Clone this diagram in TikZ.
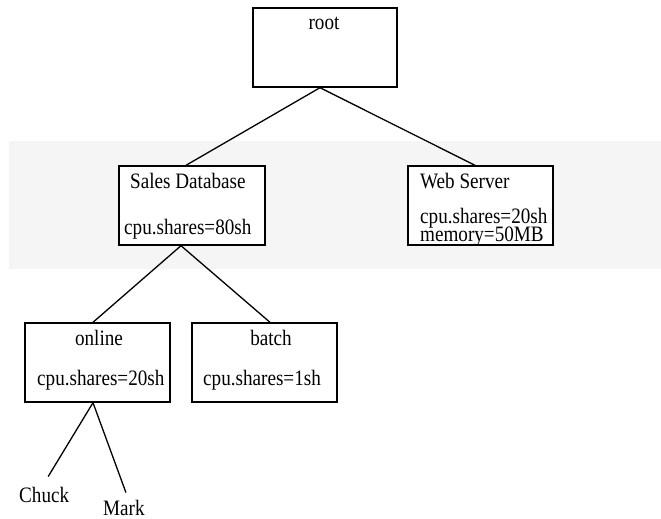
\documentclass[tikz,border=0pt]{standalone}
\usepackage{fontspec}
\setmainfont[FakeStretch=0.87]{Liberation Serif}
\begin{document}
\begin{tikzpicture}[x=1pt,y=-1pt,
  box/.style={draw=black, fill=white, line width=1.4pt, rectangle, inner sep=0pt,
              minimum width=145pt, minimum height=79pt},
  label/.style={inner sep=0pt, font=\fontsize{22}{22}\selectfont},
  edge/.style={draw=black, line width=1.3pt}]
\useasboundingbox (0,0) rectangle (661,519);
% shaded band behind the second level
\fill[black!4] (9,141) rectangle (661,269);

% group boxes
\node[box, minimum width=144pt] (root) at (325,47.5) {};
\node[box, minimum width=146pt] (sales) at (192,205.5) {};
\node[box] (web) at (480.5,205.5) {};
\node[box] (online) at (97.5,362.5) {};
\node[box] (batch) at (264.5,362.5) {};

% box texts
\node[label, anchor=base] (rootT) at (324,30) {root};
\node[label, anchor=base west] (salesT) at (130,188) {Sales Database};
\node[label, anchor=base west] (salesC) at (124,234) {cpu.shares=80sh};
\node[label, anchor=base west] (webT) at (420,188) {Web Server};
\node[label, anchor=base west] (webC) at (420,223) {cpu.shares=20sh};
\node[label, anchor=base west] (webM) at (420,241) {memory=50MB};
\node[label, anchor=base] (onlineT) at (99,345) {online};
\node[label, anchor=base west] (onlineC) at (37,385) {cpu.shares=20sh};
\node[label, anchor=base] (batchT) at (271,345) {batch};
\node[label, anchor=base west] (batchC) at (203,385) {cpu.shares=1sh};

% users
\node[label, anchor=base west] (chuck) at (19,502) {Chuck};
\node[label, anchor=base west] (mark) at (103,515) {Mark};

% hierarchy
\draw[edge] ([xshift=-5pt]root.south) -- ([xshift=-6pt]sales.north);
\draw[edge] ([xshift=-5pt]root.south) -- ([xshift=-5.5pt]web.north);
\draw[edge] ([xshift=-11pt]sales.south) -- ([xshift=-4.5pt]online.north);
\draw[edge] ([xshift=-11pt]sales.south) -- ([xshift=5.5pt]batch.north);
\draw[edge] ([xshift=-4.5pt]online.south) -- ([xshift=4pt,yshift=10pt]chuck.north);
\draw[edge] ([xshift=-4.5pt]online.south) -- ([xshift=2pt,yshift=7pt]mark.north);
\end{tikzpicture}
\end{document}
